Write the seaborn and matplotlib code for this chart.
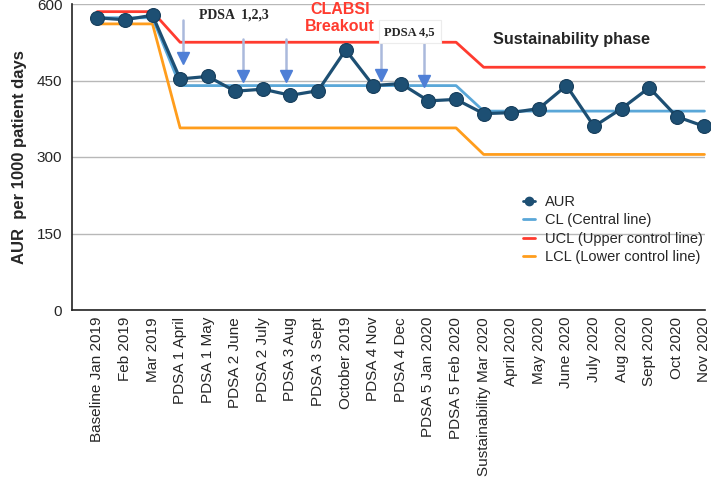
import numpy as np
import pandas as pd
import matplotlib
matplotlib.use("Agg")
import matplotlib.pyplot as plt
from matplotlib.lines import Line2D
import seaborn as sns

# ---------------- data ----------------
months = ["Baseline Jan 2019", "Feb 2019", "Mar 2019", "PDSA 1 April", "PDSA 1 May",
          "PDSA 2 June", "PDSA 2 July", "PDSA 3 Aug", "PDSA 3 Sept", "October 2019",
          "PDSA 4 Nov", "PDSA 4 Dec", "PDSA 5 Jan 2020", "PDSA 5 Feb 2020",
          "Sustainability Mar 2020", "April 2020", "May 2020", "June 2020", "July 2020",
          "Aug 2020", "Sept 2020", "Oct 2020", "Nov 2020"]
aur = [573, 569, 578, 453, 458, 429, 433, 421, 430, 510, 440, 444, 410, 413,
       385, 387, 395, 440, 360, 395, 436, 379, 360]
cl = [573, 573, 573, 440, 440, 440, 440, 440, 440, 440, 440, 440, 440, 440,
      390, 390, 390, 390, 390, 390, 390, 390, 390]
ucl = [585, 585, 585, 525, 525, 525, 525, 525, 525, 525, 525, 525, 525, 525,
       476, 476, 476, 476, 476, 476, 476, 476, 476]
lcl = [561, 561, 561, 357, 357, 357, 357, 357, 357, 357, 357, 357, 357, 357,
       305, 305, 305, 305, 305, 305, 305, 305, 305]
yticks = [0, 150, 300, 450, 600]

# annotation arrows (PDSA cycles)
arrow_x = [3.10, 5.29, 6.83, 10.27, 11.84]
arrow_top = [568, 531, 531, 527, 526]
arrow_head = [495, 459, 459, 460, 450]

df = pd.DataFrame({"pos": np.arange(len(months)), "month": months,
                   "AUR": aur, "CL": cl, "UCL": ucl, "LCL": lcl})

# ---------------- style ----------------
sns.set_style("white")
plt.rcParams['font.family'] = ['Liberation Sans', 'DejaVu Sans']

navy = "#1d4f73"
c_cl = "#5aa7d8"
c_ucl = "#ff3b2f"
c_lcl = "#ff9d1c"

fig = plt.figure(figsize=(7.11, 4.80), dpi=100)
ax = fig.add_axes([72/711, 1-310/480, (705-72)/711, (310-4)/480])

sns.lineplot(data=df, x="pos", y="LCL", color=c_lcl, lw=2.0, ax=ax, sort=False, clip_on=False)
sns.lineplot(data=df, x="pos", y="UCL", color=c_ucl, lw=2.0, ax=ax, sort=False, clip_on=False)
sns.lineplot(data=df, x="pos", y="CL", color=c_cl, lw=2.0, ax=ax, sort=False, clip_on=False)
sns.lineplot(data=df, x="pos", y="AUR", color=navy, lw=2.3, marker="o", markersize=10,
             markeredgecolor="#163e5c", markeredgewidth=0.8, ax=ax, sort=False,
             clip_on=False, zorder=5)

ax.set_xlim(-0.917, 22.02)
ax.set_ylim(0, 600)
ax.set_xticks(df["pos"])
ax.set_xticklabels(months, rotation=90, fontsize=11)
ax.set_yticks(yticks)
ax.set_yticklabels([str(v) for v in yticks], fontsize=11)
ax.tick_params(axis="x", length=0, pad=5)
ax.tick_params(axis="y", length=3, color="#888888", pad=4)
ax.set_xlabel("")
ax.set_ylabel("AUR  per 1000 patient days", fontsize=12, fontweight="bold", labelpad=7)

ax.yaxis.grid(True, color="#b8b8b8", lw=1)
ax.xaxis.grid(False)
ax.set_axisbelow(True)
for s in ["top", "right"]:
    ax.spines[s].set_visible(False)
for s in ["left", "bottom"]:
    ax.spines[s].set_color("#222222")
    ax.spines[s].set_linewidth(1.2)

# arrows
for x, t, h in zip(arrow_x, arrow_top, arrow_head):
    ax.plot([x, x], [t, h + 6], color="#aab9dc", lw=1.8, zorder=3)
    ax.plot([x], [h], marker="v", ms=9, color="#4f7fd6", mec="#4f7fd6", zorder=4)

# texts
ax.text(4.96, 578, "PDSA  1,2,3", family=["Liberation Serif"], fontweight="bold",
        fontsize=10, ha="center", va="center")
ax.text(8.79, 572, "CLABSI\nBreakout", color=c_ucl, fontweight="bold", fontsize=11.5,
        ha="center", va="center", linespacing=1.15)
ax.text(11.32, 545.5, "PDSA 4,5", family=["Liberation Serif"], fontweight="bold",
        fontsize=9, ha="center", va="center",
        bbox=dict(boxstyle="square,pad=0.45", fc="white", ec="#ececec", lw=0.8))
ax.text(14.35, 530.5, "Sustainability phase", fontweight="bold", fontsize=11.7,
        ha="left", va="center")

# legend
handles = [Line2D([], [], color=navy, marker="o", markersize=6, lw=2),
           Line2D([], [], color=c_cl, lw=2),
           Line2D([], [], color=c_ucl, lw=2),
           Line2D([], [], color=c_lcl, lw=2)]
labels = ["AUR", "CL (Central line)", "UCL (Upper control line)", "LCL (Lower control line)"]
ax.legend(handles, labels, loc="upper left", bbox_to_anchor=(523/711, 1-195/480),
          bbox_transform=fig.transFigure, frameon=False, borderpad=0, borderaxespad=0,
          handlelength=0.8, handletextpad=0.7, labelspacing=0.3, fontsize=10.5)

fig.savefig("out.png", dpi=100)
